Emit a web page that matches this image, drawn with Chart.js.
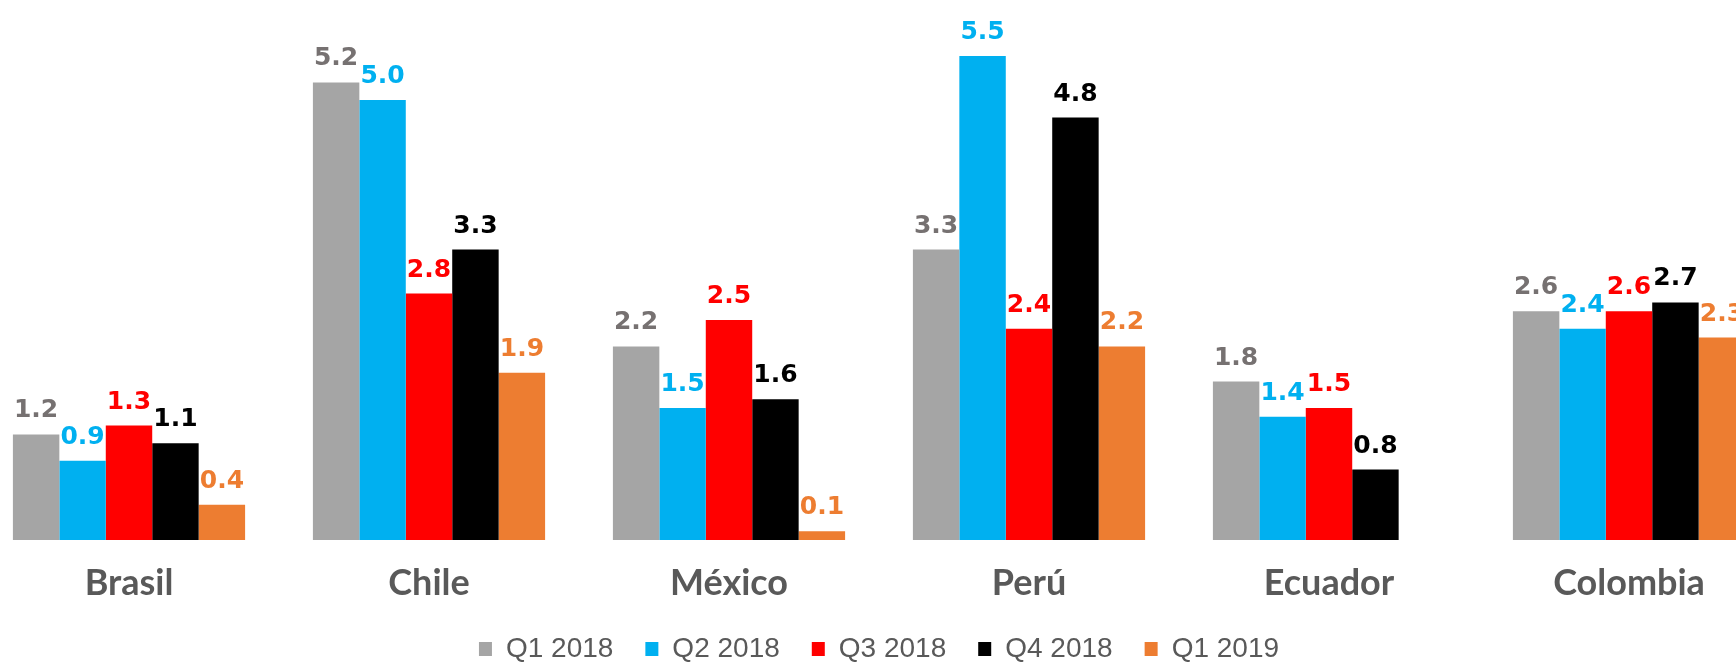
<!DOCTYPE html>
<html>
<head>
<meta charset="utf-8">
<script src="https://cdn.jsdelivr.net/npm/chart.js@4/dist/chart.umd.min.js"></script>
<style>
  html, body { margin: 0; padding: 0; background: #ffffff; overflow: hidden; width: 1736px; height: 665px; }
  #wrap { position: absolute; left: -21px; top: 0; width: 1800px; height: 673px; }
</style>
</head>
<body>
<div id="wrap"><canvas id="chart"></canvas></div>
<script>
// Countries on the category axis
const countries = ['Brasil', 'Chile', 'México', 'Perú', 'Ecuador', 'Colombia'];

// Quarterly values per country
const q1_2018 = [1.2, 5.2, 2.2, 3.3, 1.8, 2.6];
const q2_2018 = [0.9, 5.0, 1.5, 5.5, 1.4, 2.4];
const q3_2018 = [1.3, 2.8, 2.5, 2.4, 1.5, 2.6];
const q4_2018 = [1.1, 3.3, 1.6, 4.8, 0.8, 2.7];
const q1_2019 = [0.4, 1.9, 0.1, 2.2, null, 2.3];

const seriesNames = ['Q1 2018', 'Q2 2018', 'Q3 2018', 'Q4 2018', 'Q1 2019'];
const seriesValues = [q1_2018, q2_2018, q3_2018, q4_2018, q1_2019];
const barColors = ['#A5A5A5', '#00B0F0', '#FF0000', '#000000', '#ED7D31'];
const labelColors = ['#767171', '#00B0F0', '#FF0000', '#000000', '#ED7D31'];

// Value labels above each bar
const valueLabels = {
  id: 'valueLabels',
  afterDatasetsDraw(chart) {
    const ctx = chart.ctx;
    ctx.save();
    ctx.font = 'bold 25px "DejaVu Sans"';
    ctx.textAlign = 'center';
    ctx.textBaseline = 'alphabetic';
    chart.data.datasets.forEach((ds, i) => {
      const meta = chart.getDatasetMeta(i);
      meta.data.forEach((bar, j) => {
        const v = ds.data[j];
        if (v === null || v === undefined) return;
        ctx.fillStyle = labelColors[i];
        ctx.fillText(v.toFixed(1), bar.x, bar.y - 17);
      });
    });
    ctx.restore();
  }
};

new Chart(document.getElementById('chart'), {
  type: 'bar',
  data: {
    labels: countries,
    datasets: seriesNames.map((name, i) => ({
      label: name,
      data: seriesValues[i],
      backgroundColor: barColors[i],
      borderWidth: 0,
      categoryPercentage: 0.774,
      barPercentage: 1.0
    }))
  },
  options: {
    responsive: true,
    maintainAspectRatio: false,
    animation: false,
    layout: { padding: { top: 12, bottom: 0, left: 0, right: 0 } },
    scales: {
      x: {
        grid: { display: false, drawTicks: false },
        border: { display: false },
        ticks: {
          padding: 22,
          color: '#595959',
          font: { family: 'Lato', weight: 'bold', size: 36 }
        },
        afterFit: (scale) => { scale.height = 63; }
      },
      y: {
        display: false,
        min: 0,
        max: 6
      }
    },
    plugins: {
      legend: {
        position: 'bottom',
        labels: {
          boxWidth: 13,
          boxHeight: 14,
          padding: 32,
          color: '#595959',
          font: { family: '"Liberation Sans", Arial, sans-serif', size: 28 }
        }
      },
      tooltip: { enabled: false }
    }
  },
  plugins: [valueLabels]
});
</script>
</body>
</html>
